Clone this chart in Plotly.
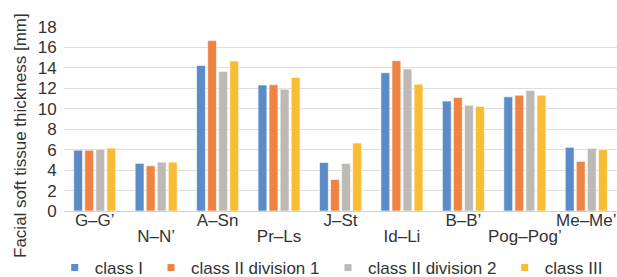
import plotly.graph_objects as go

categories = ["G–G’", "N–N’", "A–Sn", "Pr–Ls", "J–St", "Id–Li", "B–B’", "Pog–Pog’", "Me–Me’"]
series_names = ["class I", "class II division 1", "class II division 2", "class III"]
class_I = [5.95, 4.66, 14.24, 12.32, 4.75, 13.52, 10.75, 11.17, 6.23]
class_II_div1 = [5.95, 4.42, 16.67, 12.35, 3.08, 14.70, 11.10, 11.33, 4.85]
class_II_div2 = [6.05, 4.78, 13.65, 11.92, 4.65, 13.89, 10.35, 11.79, 6.13]
class_III = [6.15, 4.78, 14.67, 13.06, 6.65, 12.41, 10.22, 11.33, 6.03]
y_ticks = [0, 2, 4, 6, 8, 10, 12, 14, 16, 18]

colors = ["#5B8CC8", "#EE8343", "#BDB9B5", "#F8BD32"]
FONT = "Arial, Liberation Sans, sans-serif"
TXT = "#333333"
legend_ids = ["legend", "legend2", "legend3", "legend4"]
legend_x = [-0.0168, 0.1573, 0.4774, 0.797]

fig = go.Figure()
for name, vals, col in zip(series_names, [class_I, class_II_div1, class_II_div2, class_III], colors):
    fig.add_trace(go.Bar(x=categories, y=vals, name=name, marker_color=col,
                         marker_line=dict(color="white", width=0.6), showlegend=False))
for name, col, lg in zip(series_names, colors, legend_ids):
    fig.add_trace(go.Scatter(x=[None], y=[None], xaxis="x2", mode="markers", name=name,
                             legend=lg, marker=dict(symbol="square", size=7, color=col)))

top_ticktext = [c if i % 2 == 0 else "" for i, c in enumerate(categories)]
low_idx = [i for i in range(len(categories)) if i % 2 == 1]

legend_common = dict(orientation="h", xanchor="left", y=-0.31, yanchor="middle",
                     font=dict(size=17, color=TXT), itemwidth=30,
                     bgcolor="rgba(0,0,0,0)")

fig.update_layout(
    width=617, height=277,
    margin=dict(l=64, r=0, t=27, b=66, autoexpand=False),
    paper_bgcolor="white", plot_bgcolor="white",
    font=dict(family=FONT, size=17, color=TXT),
    barmode="group", bargap=0.28, bargroupgap=0.2,
    showlegend=True,
    xaxis=dict(type="category", range=[-0.5, 8.5], tickmode="array",
               tickvals=categories, ticktext=top_ticktext,
               showgrid=False, showline=False, ticks="", zeroline=False,
               ticklabelstandoff=-3, tickfont=dict(size=17, color=TXT)),
    xaxis2=dict(overlaying="x", type="linear", range=[-0.5, 8.5], tickmode="array",
                tickvals=low_idx, ticktext=[categories[i] for i in low_idx],
                side="bottom", showgrid=False, showline=False, ticks="", zeroline=False,
                ticklabelstandoff=13, tickfont=dict(size=17, color=TXT)),
    yaxis=dict(range=[0, 18], tickmode="array", tickvals=y_ticks,
               showgrid=True, gridcolor="#DDDDDD", gridwidth=1,
               zeroline=True, zerolinecolor="#D0D0D0", zerolinewidth=1,
               showline=False, ticks="outside", ticklen=3, tickcolor="rgba(0,0,0,0)",
               tickfont=dict(size=17, color=TXT)),
    annotations=[dict(text="Facial soft tissue thickness [mm]", textangle=-90,
                      xref="paper", yref="paper", x=-0.0796, y=0.413,
                      xanchor="center", yanchor="middle", showarrow=False,
                      font=dict(size=17, color=TXT))],
)
for lg, lx in zip(legend_ids, legend_x):
    fig.update_layout({lg: dict(legend_common, x=lx)})

fig.write_html("out.html", config={"displayModeBar": False},
               post_script="document.body.style.margin='0';document.body.style.overflow='hidden';")
